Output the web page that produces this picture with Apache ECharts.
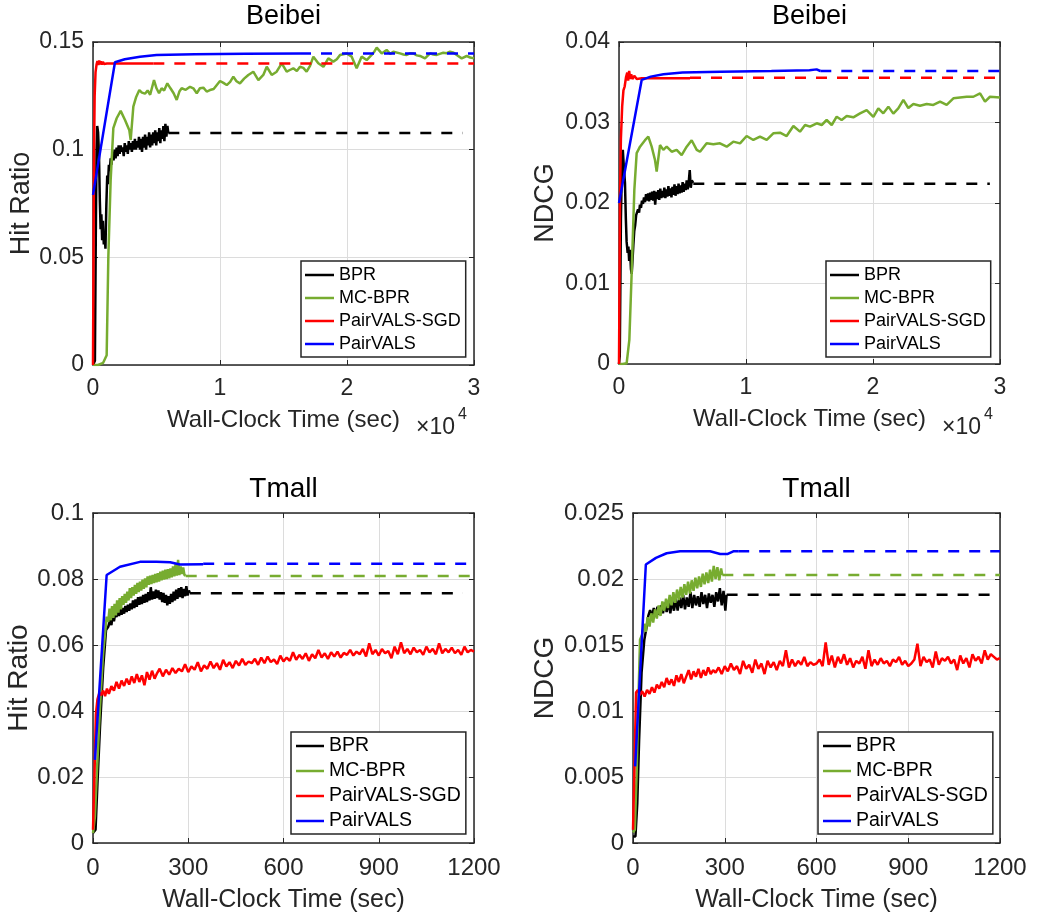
<!DOCTYPE html>
<html><head><meta charset="utf-8">
<script src="https://cdn.jsdelivr.net/npm/echarts@6/dist/echarts.min.js"></script>
<style>html,body{margin:0;padding:0;background:#fff}#c{width:1039px;height:916px}</style>
</head><body><div id="c"></div>
<script>
// ---------------- DATA (time in seconds, metric value) ----------------
const legendNames = ['BPR','MC-BPR','PairVALS-SGD','PairVALS'];

// Beibei - Hit Ratio
const bbHR_BPR = [[0,0],[150,0.002],[220,0.06],[280,0.1],[330,0.111],[400,0.108],[470,0.098],[540,0.076],[600,0.063],[660,0.07],[720,0.058],[780,0.067],[850,0.056],[920,0.061],[980,0.054],[1050,0.074],[1120,0.088],[1180,0.084],[1250,0.093],[1320,0.09],[1390,0.096],[1460,0.093],[1540,0.099],[1620,0.095],[1700,0.1],[1780,0.096],[1860,0.101],[1940,0.097],[2020,0.102],[2100,0.098],[2180,0.102],[2260,0.099],[2340,0.101],[2420,0.097],[2500,0.103],[2580,0.099],[2660,0.102],[2740,0.098],[2820,0.104],[2900,0.1],[2980,0.103],[3060,0.099],[3140,0.104],[3220,0.1],[3300,0.105],[3380,0.1],[3460,0.104],[3540,0.101],[3620,0.106],[3700,0.1],[3780,0.105],[3860,0.099],[3940,0.106],[4020,0.101],[4100,0.107],[4180,0.1],[4260,0.106],[4340,0.102],[4420,0.108],[4500,0.101],[4580,0.107],[4660,0.102],[4740,0.108],[4820,0.103],[4900,0.109],[4980,0.102],[5060,0.108],[5140,0.104],[5220,0.11],[5300,0.103],[5380,0.109],[5460,0.105],[5540,0.111],[5620,0.104],[5700,0.112],[5780,0.106],[5860,0.111],[5930,0.1077]];
const bbHR_BPR_end = [[5930,0.1077],[29100,0.1077]];
const bbHR_MC = [[0,0],[400,0],[800,0.001],[1076,0.0045],[1207,0.05],[1391,0.086],[1601,0.11],[1864,0.1146],[2178,0.118],[2520,0.1138],[2861,0.109],[2967,0.1045],[3176,0.12],[3400,0.1245],[3648,0.1277],[3850,0.1265],[4094,0.126],[4300,0.1275],[4500,0.1255],[4803,0.1323],[5000,0.1285],[5200,0.1262],[5400,0.1285],[5600,0.1275],[5853,0.1308],[6100,0.1285],[6350,0.1262],[6590,0.1231],[6800,0.127],[6980,0.1285],[7300,0.1278],[7640,0.1292],[7900,0.1285],[8170,0.1262],[8420,0.1285],[8690,0.1288],[8950,0.127],[9210,0.1277],[9500,0.1282],[10000,0.1319],[10270,0.131],[10530,0.13],[10800,0.1315],[11050,0.1339],[11300,0.1318],[11570,0.1308],[11900,0.133],[12230,0.1347],[12620,0.1362],[13020,0.1323],[13410,0.1347],[13680,0.1385],[14070,0.1347],[14460,0.1362],[14860,0.1401],[15250,0.1362],[15500,0.137],[15770,0.1378],[16050,0.1365],[16300,0.1385],[16560,0.138],[16820,0.1362],[17100,0.139],[17350,0.1432],[17740,0.1401],[18140,0.1385],[18530,0.1424],[18920,0.1409],[19200,0.142],[19450,0.144],[19970,0.1447],[20370,0.1432],[20760,0.1378],[21150,0.1432],[21550,0.1416],[21940,0.144],[22150,0.1455],[22340,0.1474],[22730,0.1447],[23120,0.1463],[23400,0.1445],[23650,0.1455],[24170,0.1447],[24450,0.1442],[24700,0.144],[25000,0.1448],[25220,0.1447],[25500,0.1438],[25750,0.1435],[26140,0.1424],[26540,0.1447],[26800,0.1442],[27060,0.144],[27300,0.1445],[27580,0.145],[27850,0.1448],[28110,0.1455],[28400,0.145],[28640,0.144],[29030,0.1424],[29430,0.1435],[29700,0.1428],[30000,0.1424]];
const bbHR_SGD = [[0,0],[40,0.05],[80,0.098],[130,0.125],[200,0.136],[280,0.1395],[350,0.1412],[420,0.1393],[490,0.1414],[560,0.1396],[630,0.141],[700,0.1395],[780,0.1408],[860,0.1398],[950,0.1404],[1100,0.14],[4750,0.14]];
const bbHR_SGD_end = [[4750,0.14],[30000,0.14]];
const bbHR_VALS = [[0,0.079],[1730,0.1406],[2500,0.142],[3700,0.1432],[5000,0.144],[8000,0.1443],[12000,0.1445],[16300,0.1447]];
const bbHR_VALS_end = [[16300,0.1447],[30000,0.1447]];

// Beibei - NDCG
const bbND_BPR = [[0,0],[60,0.001],[150,0.018],[250,0.0262],[300,0.0266],[380,0.0245],[470,0.0225],[540,0.018],[600,0.0152],[680,0.0138],[740,0.0146],[800,0.0128],[870,0.0142],[940,0.0118],[1000,0.0112],[1060,0.0128],[1130,0.0148],[1200,0.0165],[1270,0.0172],[1350,0.0185],[1420,0.0183],[1500,0.0192],[1580,0.0188],[1650,0.0198],[1730,0.0194],[1810,0.0203],[1890,0.0199],[1970,0.0207],[2050,0.0201],[2130,0.0211],[2210,0.0203],[2290,0.0212],[2370,0.0202],[2450,0.0213],[2530,0.0204],[2610,0.0214],[2690,0.0203],[2770,0.0215],[2850,0.0198],[2930,0.0214],[3010,0.0205],[3090,0.0216],[3170,0.0204],[3250,0.0218],[3330,0.0206],[3410,0.0215],[3490,0.0207],[3570,0.0219],[3650,0.0206],[3730,0.0217],[3810,0.0208],[3890,0.0221],[3970,0.0209],[4050,0.0218],[4130,0.0207],[4210,0.022],[4290,0.021],[4370,0.0223],[4450,0.0209],[4530,0.0221],[4610,0.0211],[4690,0.0224],[4770,0.0212],[4850,0.0222],[4930,0.0213],[5010,0.0226],[5090,0.0214],[5170,0.0224],[5250,0.0216],[5330,0.0228],[5410,0.0217],[5490,0.0226],[5570,0.0241],[5650,0.0219],[5730,0.0228],[5850,0.0225]];
const bbND_BPR_end = [[5850,0.0224],[29200,0.0224]];
const bbND_MC = [[0,0],[300,0],[604,0.0001],[814,0.003],[997,0.0113],[1207,0.0216],[1391,0.0262],[1654,0.027],[2047,0.0278],[2310,0.02824],[2572,0.027],[2835,0.02534],[2966,0.02389],[3228,0.0272],[3490,0.0266],[3753,0.027],[4147,0.02637],[4540,0.0266],[4934,0.02596],[5330,0.027],[5720,0.0278],[6120,0.0266],[6380,0.02637],[6900,0.02741],[7430,0.0273],[7950,0.02741],[8480,0.027],[9000,0.02762],[9530,0.02741],[10050,0.02832],[10580,0.02783],[11100,0.02824],[11630,0.02783],[12150,0.02866],[12680,0.02873],[13200,0.02832],[13730,0.02957],[14250,0.02886],[14650,0.02969],[15040,0.02948],[15570,0.0299],[15960,0.02969],[16350,0.03031],[16750,0.02969],[17140,0.03072],[17530,0.03031],[17930,0.0308],[18450,0.03064],[18980,0.03114],[19500,0.03155],[20030,0.0307],[20420,0.03176],[20810,0.03114],[21210,0.03197],[21600,0.0311],[21990,0.03176],[22390,0.0328],[22780,0.0318],[23180,0.0323],[23700,0.03209],[24230,0.0323],[24750,0.03218],[25280,0.03259],[25800,0.03218],[26330,0.033],[26850,0.03311],[27380,0.0332],[27900,0.0332],[28430,0.03363],[28820,0.0326],[29210,0.0332],[30000,0.0331]];
const bbND_SGD = [[0,0],[40,0.01],[80,0.021],[150,0.028],[250,0.032],[350,0.034],[450,0.0345],[550,0.0356],[650,0.0362],[720,0.0352],[800,0.0364],[880,0.0354],[960,0.036],[1050,0.0354],[1200,0.0358],[1400,0.0354],[1800,0.0355],[5590,0.0355]];
const bbND_SGD_end = [[5590,0.03555],[30000,0.03555]];
const bbND_VALS = [[0,0.02],[1790,0.0353],[2500,0.0357],[3500,0.036],[5000,0.0362],[8000,0.0363],[12000,0.0364],[15000,0.0365],[15560,0.0366],[15850,0.0364]];
const bbND_VALS_end = [[15850,0.0364],[30000,0.0364]];

// Tmall - Hit Ratio
const tmHR_BPR = [[0,0.003],[8,0.004],[14,0.018],[22,0.035],[32,0.053],[41,0.0645],[48,0.0655],[54,0.0676],[58,0.066],[62,0.069],[66,0.0672],[70,0.0695],[74,0.0685],[78,0.0702],[82,0.0688],[86,0.071],[90,0.0692],[94,0.0712],[98,0.0695],[102,0.0718],[106,0.07],[110,0.0722],[114,0.0704],[118,0.0726],[122,0.0708],[126,0.0735],[130,0.0712],[134,0.0738],[138,0.0716],[142,0.0745],[146,0.0722],[150,0.0746],[154,0.0724],[158,0.0752],[162,0.0728],[166,0.0755],[170,0.073],[174,0.076],[178,0.0735],[182,0.0775],[186,0.0738],[190,0.0762],[194,0.074],[198,0.0768],[202,0.0742],[206,0.0765],[210,0.0738],[214,0.076],[218,0.073],[222,0.0758],[226,0.0728],[230,0.0752],[234,0.072],[238,0.0748],[242,0.0725],[246,0.0755],[250,0.073],[254,0.0762],[258,0.0735],[262,0.0768],[266,0.074],[270,0.0772],[274,0.0745],[278,0.0775],[282,0.0742],[286,0.077],[290,0.0748],[294,0.0778],[298,0.075],[302,0.0765],[305,0.0758]];
const tmHR_BPR_end = [[305,0.0757],[1165,0.0757]];
const tmHR_MC = [[0,0.003],[6,0.008],[12,0.021],[22,0.041],[32,0.0575],[43,0.0686],[48,0.067],[52,0.071],[56,0.0675],[60,0.0718],[64,0.0682],[68,0.0725],[72,0.069],[76,0.0735],[80,0.0698],[84,0.0742],[88,0.0708],[92,0.0748],[96,0.0722],[100,0.0755],[104,0.0728],[108,0.0762],[112,0.0735],[116,0.0772],[120,0.0742],[124,0.0775],[128,0.075],[132,0.0782],[136,0.0755],[140,0.0788],[144,0.076],[148,0.0792],[152,0.0765],[156,0.0798],[160,0.077],[164,0.0802],[168,0.0775],[172,0.0808],[176,0.0782],[180,0.081],[184,0.0785],[188,0.0812],[192,0.0788],[196,0.0815],[200,0.079],[204,0.0818],[208,0.0792],[212,0.0822],[216,0.0796],[220,0.0825],[224,0.0798],[228,0.0828],[232,0.08],[236,0.083],[240,0.0802],[244,0.0832],[248,0.0805],[252,0.0838],[256,0.0808],[260,0.0845],[264,0.081],[268,0.0858],[272,0.0812],[276,0.0838],[280,0.0815],[284,0.0835],[288,0.0812],[292,0.081]];
const tmHR_MC_end = [[292,0.0809],[1200,0.0809]];
const tmHR_SGD = [[0,0.004],[5,0.022],[9,0.039],[14,0.0435],[20,0.0455],[26,0.0448],[32,0.0462],[38,0.0445],[44,0.0468],[50,0.0452],[58,0.0475],[66,0.0462],[74,0.0488],[82,0.0468],[90,0.0492],[98,0.0476],[106,0.0498],[114,0.048],[122,0.0505],[130,0.0485],[138,0.0512],[146,0.0488],[154,0.0508],[162,0.0478],[170,0.0518],[178,0.0495],[186,0.0522],[194,0.0498],[202,0.0515],[210,0.0528],[220,0.0505],[230,0.0525],[240,0.051],[250,0.053],[260,0.0515],[270,0.0528],[280,0.052],[290,0.0542],[300,0.0518],[310,0.0535],[320,0.0525],[330,0.0548],[340,0.052],[350,0.0538],[360,0.0528],[370,0.055],[380,0.053],[390,0.0545],[400,0.0525],[410,0.0555],[420,0.0535],[430,0.0548],[440,0.053],[450,0.0552],[460,0.0538],[470,0.0558],[480,0.054],[490,0.055],[500,0.0545],[510,0.0558],[520,0.054],[530,0.0562],[540,0.0545],[550,0.0565],[560,0.0548],[570,0.0556],[580,0.0542],[590,0.0568],[600,0.055],[610,0.0562],[620,0.0552],[630,0.0578],[640,0.0555],[650,0.057],[660,0.0558],[670,0.0575],[680,0.0552],[690,0.0572],[700,0.056],[710,0.0585],[720,0.0562],[730,0.0575],[740,0.0558],[750,0.0578],[760,0.0565],[770,0.058],[780,0.0562],[790,0.0576],[800,0.057],[810,0.0585],[820,0.0568],[830,0.058],[840,0.0572],[850,0.0588],[860,0.0565],[870,0.0605],[880,0.0572],[890,0.0585],[900,0.0568],[910,0.0588],[920,0.0575],[930,0.0582],[940,0.056],[950,0.0595],[960,0.0572],[970,0.0608],[980,0.0575],[990,0.0588],[1000,0.0572],[1010,0.0592],[1020,0.0578],[1030,0.0585],[1040,0.057],[1050,0.0595],[1060,0.0578],[1070,0.0588],[1080,0.0572],[1090,0.0605],[1100,0.0575],[1110,0.0588],[1120,0.0578],[1130,0.0592],[1140,0.0575],[1150,0.0585],[1160,0.057],[1170,0.0595],[1180,0.0578],[1190,0.0585],[1200,0.058]];
const tmHR_VALS = [[6,0.0252],[43,0.0812],[85,0.0837],[148,0.0852],[200,0.0852],[243,0.0851],[274,0.0844],[347,0.0845]];
const tmHR_VALS_end = [[347,0.0846],[1200,0.0846]];

// Tmall - NDCG
const tmND_BPR = [[0,0.0005],[8,0.0005],[14,0.003],[20,0.0078],[28,0.0129],[37,0.0154],[44,0.0163],[50,0.0172],[56,0.01765],[62,0.0171],[68,0.0178],[74,0.0172],[80,0.0179],[86,0.0173],[92,0.018],[98,0.0174],[104,0.0182],[110,0.0175],[116,0.0183],[122,0.0174],[128,0.0184],[134,0.0176],[140,0.0185],[146,0.0176],[152,0.0186],[158,0.0178],[164,0.0188],[170,0.0177],[176,0.0186],[182,0.0179],[188,0.019],[194,0.0178],[200,0.0188],[206,0.018],[212,0.0187],[218,0.0179],[224,0.019],[230,0.0181],[236,0.0188],[242,0.0178],[248,0.0189],[254,0.0182],[260,0.0188],[266,0.0179],[272,0.019],[278,0.0183],[284,0.0193],[290,0.018],[296,0.0191],[302,0.0176],[306,0.0188]];
const tmND_BPR_end = [[306,0.0188],[1167,0.0188]];
const tmND_MC = [[0,0.0008],[6,0.001],[12,0.0053],[17,0.0103],[23,0.0154],[30,0.0158],[36,0.0166],[42,0.016],[48,0.0171],[54,0.0164],[60,0.0174],[66,0.0167],[72,0.0177],[78,0.017],[84,0.018],[90,0.0172],[96,0.0183],[102,0.0176],[108,0.0185],[114,0.0178],[120,0.0188],[126,0.018],[132,0.019],[138,0.0182],[144,0.0192],[150,0.0184],[156,0.0194],[162,0.0186],[168,0.0196],[174,0.0188],[180,0.0198],[186,0.0189],[192,0.0199],[198,0.0191],[204,0.0201],[210,0.0193],[216,0.0202],[222,0.0194],[228,0.0204],[234,0.0196],[240,0.0205],[246,0.0197],[252,0.0207],[258,0.0198],[264,0.021],[270,0.02],[276,0.0209],[282,0.0199],[288,0.0208],[292,0.0203]];
const tmND_MC_end = [[292,0.0203],[1200,0.0203]];
const tmND_SGD = [[0,0.001],[5,0.006],[10,0.0114],[16,0.0116],[22,0.0112],[30,0.0115],[38,0.0111],[46,0.0116],[54,0.0113],[62,0.0118],[70,0.0114],[78,0.012],[86,0.0117],[94,0.0122],[102,0.0118],[110,0.0125],[118,0.012],[126,0.0124],[134,0.0119],[142,0.0127],[150,0.0122],[158,0.0128],[166,0.0121],[174,0.0126],[182,0.0131],[190,0.0124],[198,0.013],[206,0.0126],[214,0.0132],[222,0.0125],[230,0.0131],[238,0.0127],[246,0.0133],[254,0.0128],[262,0.0131],[270,0.0129],[280,0.0133],[290,0.0128],[300,0.0134],[310,0.013],[320,0.0136],[330,0.0131],[340,0.0134],[350,0.0128],[360,0.0138],[370,0.0132],[380,0.0135],[390,0.0129],[400,0.0139],[410,0.0132],[420,0.0136],[430,0.0128],[440,0.0138],[450,0.0133],[460,0.0137],[470,0.0131],[480,0.0138],[490,0.0134],[500,0.0146],[510,0.0133],[520,0.0139],[530,0.0134],[540,0.0138],[550,0.0135],[560,0.0141],[570,0.0134],[580,0.0137],[590,0.0135],[600,0.0136],[610,0.0139],[620,0.0134],[630,0.0152],[640,0.0135],[650,0.0142],[660,0.0133],[670,0.0141],[680,0.0136],[690,0.0143],[700,0.0135],[710,0.014],[720,0.0133],[730,0.0138],[740,0.0136],[750,0.0141],[760,0.0132],[770,0.0146],[780,0.0134],[790,0.0139],[800,0.0135],[810,0.014],[820,0.0136],[830,0.0138],[840,0.0134],[850,0.0139],[860,0.0137],[870,0.0141],[880,0.0135],[890,0.0138],[900,0.0134],[910,0.0136],[920,0.0139],[930,0.0151],[940,0.0134],[950,0.0141],[960,0.0137],[970,0.0139],[980,0.0133],[990,0.0145],[1000,0.0135],[1010,0.014],[1020,0.0138],[1030,0.0141],[1040,0.0136],[1050,0.0139],[1060,0.0131],[1070,0.0142],[1080,0.0136],[1090,0.014],[1100,0.0133],[1110,0.0143],[1120,0.0138],[1130,0.0141],[1140,0.0136],[1150,0.0146],[1160,0.0139],[1170,0.0143],[1180,0.0141],[1190,0.0139],[1200,0.014]];
const tmND_VALS = [[7,0.0058],[42,0.0211],[75,0.0216],[110,0.02195],[154,0.0221],[252,0.0221],[285,0.0219],[310,0.0219],[328,0.0221],[344,0.0221]];
const tmND_VALS_end = [[344,0.0221],[1200,0.0221]];

// ---------------- STYLE / LAYOUT ----------------
const FONT = 'Liberation Sans';
const TXT = '#262626';
const COL = {'BPR':'#000000','MC-BPR':'#77AC30','PairVALS-SGD':'#FF0000','PairVALS':'#0000FF'};

const panels = [
  {grid:{left:93,top:42,width:381,height:323}, title:'Beibei', titleTop:3, xMax:30000, xInt:10000, xDiv:10000,
   yMax:0.15, yInt:0.05, yName:'Hit Ratio', yGap:58, xGap:43, xMargin:12, fs:{title:27,tick:23,xn:24,yn:27,lg:18},
   legend:{left:301,top:261,iw:29,gap:5,lh:18,pad:[5,5,4,4]},
   lines:[['BPR',bbHR_BPR,0],['MC-BPR',bbHR_MC,0],['PairVALS-SGD',bbHR_SGD,0],['PairVALS',bbHR_VALS,0],
          ['BPR',bbHR_BPR_end,1],['PairVALS-SGD',bbHR_SGD_end,1],['PairVALS',bbHR_VALS_end,1]]},
  {grid:{left:619,top:42,width:381,height:322}, title:'Beibei', titleTop:3, xMax:30000, xInt:10000, xDiv:10000,
   yMax:0.04, yInt:0.01, yName:'NDCG', yGap:60, xGap:43, xMargin:12, fs:{title:27,tick:23,xn:24,yn:27,lg:18},
   legend:{left:826,top:261,iw:29,gap:5,lh:18,pad:[5,5,4,4]},
   lines:[['BPR',bbND_BPR,0],['MC-BPR',bbND_MC,0],['PairVALS-SGD',bbND_SGD,0],['PairVALS',bbND_VALS,0],
          ['BPR',bbND_BPR_end,1],['PairVALS-SGD',bbND_SGD_end,1],['PairVALS',bbND_VALS_end,1]]},
  {grid:{left:93,top:513,width:381,height:330}, title:'Tmall', titleTop:475, xMax:1200, xInt:300, xDiv:1,
   yMax:0.1, yInt:0.02, yName:'Hit Ratio', yGap:58, xGap:45, xMargin:13, fs:{title:28,tick:24,xn:25,yn:28,lg:19.5},
   legend:{left:291,top:732,iw:28,gap:5,lh:20,pad:[4,5,3,5]},
   lines:[['BPR',tmHR_BPR,0],['MC-BPR',tmHR_MC,0],['PairVALS-SGD',tmHR_SGD,0],['PairVALS',tmHR_VALS,0],
          ['BPR',tmHR_BPR_end,1],['MC-BPR',tmHR_MC_end,1],['PairVALS',tmHR_VALS_end,1]]},
  {grid:{left:633,top:513,width:367,height:330}, title:'Tmall', titleTop:475, xMax:1200, xInt:300, xDiv:1,
   yMax:0.025, yInt:0.005, yName:'NDCG', yGap:74, xGap:45, xMargin:13, fs:{title:28,tick:24,xn:25,yn:28,lg:19.5},
   legend:{left:818,top:732,iw:28,gap:5,lh:20,pad:[4,5,3,5]},
   lines:[['BPR',tmND_BPR,0],['MC-BPR',tmND_MC,0],['PairVALS-SGD',tmND_SGD,0],['PairVALS',tmND_VALS,0],
          ['BPR',tmND_BPR_end,1],['MC-BPR',tmND_MC_end,1],['PairVALS',tmND_VALS_end,1]]}
];

const fmtNum = v => String(parseFloat(Number(v).toFixed(6)));
const option = {animation:false, backgroundColor:'#fff', grid:[], xAxis:[], yAxis:[], series:[], title:[], legend:[], graphic:[]};
const axLine = {show:true, onZero:false, lineStyle:{color:TXT, width:1.5}};
const tick = {show:true, inside:true, length:5, lineStyle:{color:TXT, width:1}};

panels.forEach((p,i)=>{
  option.grid.push(Object.assign({containLabel:false}, p.grid));
  const cx = p.grid.left + p.grid.width/2;
  option.title.push({text:p.title, left:cx, top:p.titleTop, textAlign:'center', padding:0,
    textStyle:{fontFamily:FONT, fontSize:p.fs.title, fontWeight:'normal', color:'#000'}});
  option.xAxis.push({type:'value', gridIndex:i, position:'bottom', min:0, max:p.xMax, interval:p.xInt,
    axisLine:axLine, axisTick:tick,
    axisLabel:{margin:p.xMargin, fontFamily:FONT, fontSize:p.fs.tick, color:TXT, formatter:v=>fmtNum(v/p.xDiv)},
    splitLine:{show:true, lineStyle:{color:'#dcdcdc', width:1}},
    name:'Wall-Clock Time (sec)', nameLocation:'middle', nameGap:p.xGap,
    nameTextStyle:{fontFamily:FONT, fontSize:p.fs.xn, color:TXT}});
  option.yAxis.push({type:'value', gridIndex:i, position:'left', min:0, max:p.yMax, interval:p.yInt,
    axisLine:axLine, axisTick:tick,
    axisLabel:{margin:9, fontFamily:FONT, fontSize:p.fs.tick, color:TXT, formatter:v=>fmtNum(v)},
    splitLine:{show:true, lineStyle:{color:'#dcdcdc', width:1}},
    name:p.yName, nameLocation:'middle', nameGap:p.yGap,
    nameTextStyle:{fontFamily:FONT, fontSize:p.fs.yn, color:TXT}});
  p.lines.forEach(([name,data,dashed])=>{
    option.series.push({type:'line', name:name, xAxisIndex:i, yAxisIndex:i, data:data,
      showSymbol:false, symbol:'none', smooth:false, clip:true, z:dashed?3:2,
      itemStyle:{color:COL[name]},
      lineStyle:{color:COL[name], width:2.5, type:dashed?[11,10]:'solid'}});
  });
  option.legend.push({orient:'vertical', left:p.legend.left, top:p.legend.top, data:legendNames,
    icon:'rect', itemWidth:p.legend.iw, itemHeight:2.5, itemGap:p.legend.gap, padding:p.legend.pad,
    backgroundColor:'#fff', borderColor:TXT, borderWidth:1.5, borderRadius:0, selectedMode:false,
    textStyle:{fontFamily:FONT, fontSize:p.fs.lg, lineHeight:p.legend.lh, color:'#000'}});
});
// box axes (top and right) with inward ticks
panels.forEach((p,i)=>{
  option.xAxis.push({type:'value', gridIndex:i, position:'top', min:0, max:p.xMax, interval:p.xInt,
    axisLine:axLine, axisTick:tick, axisLabel:{show:false}, splitLine:{show:false}});
  option.yAxis.push({type:'value', gridIndex:i, position:'right', min:0, max:p.yMax, interval:p.yInt,
    axisLine:axLine, axisTick:tick, axisLabel:{show:false}, splitLine:{show:false}});
});
// x10^4 exponent labels for Beibei panels
[0,1].forEach(i=>{
  const r = panels[i].grid.left + panels[i].grid.width;
  option.graphic.push({type:'text', left:r-58, top:416, style:{text:'×10', fontFamily:FONT, fontSize:23, fill:TXT}});
  option.graphic.push({type:'text', left:r-16, top:407, style:{text:'4', fontFamily:FONT, fontSize:16, fill:TXT}});
});

const chart = echarts.init(document.getElementById('c'), null, {renderer:'canvas'});
chart.setOption(option);
</script>
</body></html>
